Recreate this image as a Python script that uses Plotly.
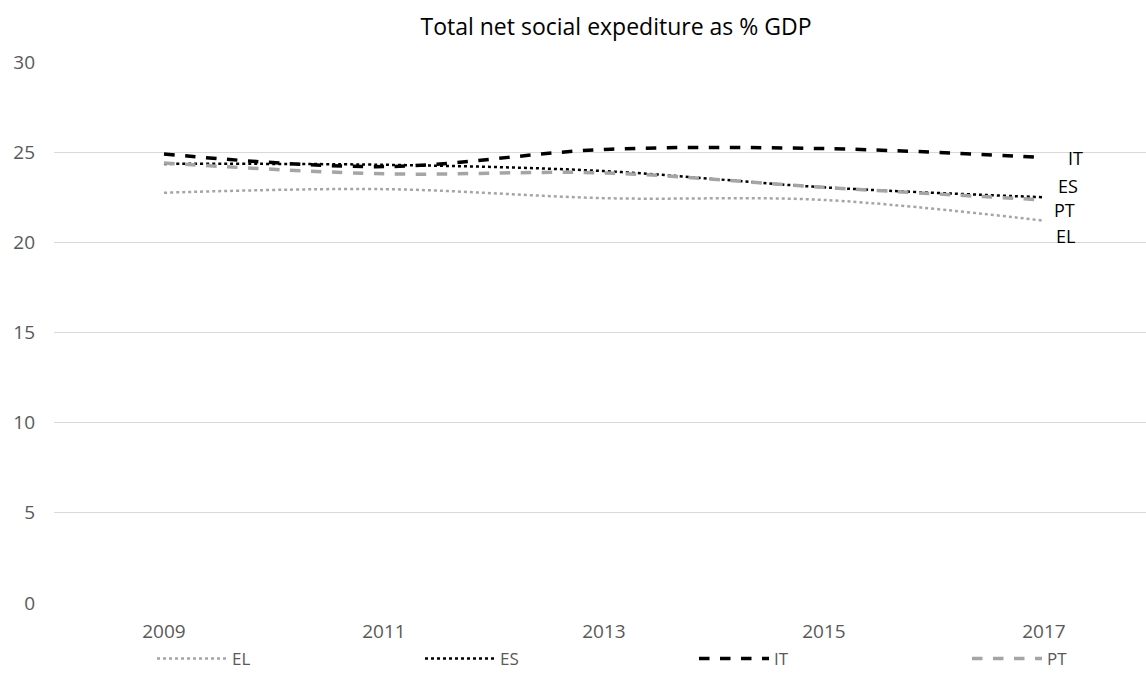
import plotly.graph_objects as go

years = ["2009", "2011", "2013", "2015", "2017"]
EL = [22.75, 22.95, 22.45, 22.35, 21.2]
ES = [24.35, 24.3, 23.95, 23.05, 22.5]
IT = [24.9, 24.2, 25.15, 25.2, 24.7]
PT = [24.4, 23.8, 23.85, 23.05, 22.35]

series = [
    ("EL", EL, dict(color="#A5A5A5", width=2.5, dash="dot")),
    ("ES", ES, dict(color="#000000", width=2.5, dash="dot")),
    ("IT", IT, dict(color="#000000", width=3.5, dash="dash")),
    ("PT", PT, dict(color="#A5A5A5", width=3.5, dash="dash")),
]

legend_ids = ["legend", "legend2", "legend3", "legend4"]
legend_px = [152, 420, 694, 967]

fig = go.Figure()
for (name, vals, line), lid in zip(series, legend_ids):
    fig.add_trace(go.Scatter(x=years, y=vals, name=name, mode="lines", legend=lid,
                             line=dict(shape="spline", smoothing=1.0, **line)))

label_shift = {"IT": (23, 0), "ES": (13, 11), "PT": (9, -10), "EL": (11, -15)}
annotations = []
for name, vals, line in series:
    xs, ys = label_shift[name]
    annotations.append(dict(x=len(years) - 1, y=vals[-1], xref="x", yref="y", text=name,
                            showarrow=False, xanchor="left", yanchor="middle",
                            xshift=xs, yshift=ys, borderpad=0,
                            font=dict(family="Open Sans", size=18, color="#000000")))

legend_layout = {}
for lid, px in zip(legend_ids, legend_px):
    legend_layout[lid] = dict(orientation="h", x=(px - 54) / 1092, xanchor="left",
                              y=-(659 - 603) / 541, yanchor="middle", itemwidth=70,
                              bgcolor="rgba(0,0,0,0)",
                              font=dict(size=17, color="#595959"))

fig.update_layout(
    width=1146, height=679,
    margin=dict(l=54, r=0, t=62, b=76, autoexpand=False),
    paper_bgcolor="white", plot_bgcolor="white",
    font=dict(family="Open Sans", color="#595959"),
    annotations=annotations,
    title=dict(text="Total net social expediture as % GDP", x=616/1146, xanchor="center",
               y=1 - 27/679, yanchor="middle",
               font=dict(family="Open Sans", size=23, color="#000000")),
    showlegend=True,
    xaxis=dict(type="category", range=[-0.5, 4.464], showgrid=False, zeroline=False,
               showline=False, ticks="", ticklabelstandoff=15,
               tickfont=dict(size=19, color="#595959")),
    yaxis=dict(range=[0, 30], dtick=5, showgrid=True, gridcolor="#D9D9D9", gridwidth=1,
               zeroline=False, showline=False, ticks="", ticklabelstandoff=18,
               tickfont=dict(size=19, color="#595959")),
    **legend_layout,
)
fig.write_html("out.html")
